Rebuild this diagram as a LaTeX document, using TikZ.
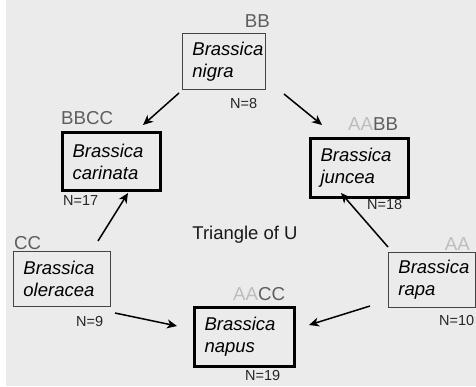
\documentclass[tikz,border=0pt]{standalone}
\usepackage{fontspec}
\setmainfont{Liberation Sans}
\usetikzlibrary{arrows.meta}
\definecolor{bgray}{HTML}{EBEBEB}
\definecolor{gA}{HTML}{BDBDBD}
\definecolor{gB}{HTML}{5E5E5E}
\definecolor{thinline}{HTML}{444444}
\begin{document}
\begin{tikzpicture}[x=1pt,y=-1pt,
  species/.style={anchor=north west, align=left, inner xsep=10pt, inner ysep=0pt,
    font=\fontsize{18.5}{22}\selectfont\itshape, text=black},
  thinbox/.style={species, draw=thinline, line width=0.9pt},
  thickbox/.style={species, draw=black, line width=3pt},
  genome/.style={inner sep=0pt, font=\fontsize{18.7}{20}\selectfont, text=gB},
  count/.style={inner sep=0pt, font=\fontsize{14.5}{16}\selectfont, text=black!85},
  arr/.style={draw=black, line width=1.5pt, -{Stealth[length=10pt,width=9pt,inset=3pt]}}
]
\useasboundingbox (0,0) rectangle (476,386);
\fill[white] (0,0) rectangle (476,386);
\fill[bgray] (6,0) rectangle (476,386);

% species boxes
\node[thinbox, minimum width=83pt, minimum height=56pt, text width=63pt] (nigra) at (182,33) {Brassica\\nigra};
\node[thickbox, minimum width=98pt, minimum height=58pt, text width=78pt] (carinata) at (61,131) {Brassica\\carinata};
\node[thickbox, minimum width=98pt, minimum height=59pt, text width=78pt] (juncea) at (309,137) {Brassica\\juncea};
\node[thinbox, minimum width=97pt, minimum height=55pt, text width=77pt] (oleracea) at (13,251) {Brassica\\oleracea};
\node[thickbox, minimum width=100pt, minimum height=59pt, text width=80pt] (napus) at (193,306) {Brassica\\napus};
\node[thinbox, minimum width=87pt, minimum height=55pt, text width=67pt] (rapa) at (388,252) {Brassica\\rapa};

% genome labels
\node[genome, anchor=base east] (gnigra) at (270,27) {BB};
\node[genome, anchor=base west] (gcarinata) at (61,124) {BBCC};
\node[genome, anchor=base west] (gjuncea) at (348,130) {\textcolor{gA}{AA}BB};
\node[genome, anchor=base west] (goleracea) at (14,249) {CC};
\node[genome, anchor=base west] (gnapus) at (233,300) {\textcolor{gA}{AA}CC};
\node[genome, anchor=base east] (grapa) at (470,250) {\textcolor{gA}{AA}};

% chromosome numbers
\node[count, anchor=base west] (nnigra) at (230,108) {N=8};
\node[count, anchor=base west] (ncarinata) at (63,205) {N=17};
\node[count, anchor=base west] (njuncea) at (367,209) {N=18};
\node[count, anchor=base west] (noleracea) at (76,326) {N=9};
\node[count, anchor=base west] (nnapus) at (245,380) {N=19};
\node[count, anchor=base west] (nrapa) at (439,325) {N=10};

% title
\node[inner sep=0pt, anchor=base, font=\fontsize{18.5}{20}\selectfont, text=black!90] (title) at (245,239) {Triangle of U};

% arrow end points
\coordinate (a1s) at (179,93);  \coordinate (a1e) at (143,125);
\coordinate (a2s) at (284,94);  \coordinate (a2e) at (322,125);
\coordinate (a3s) at (98,241);  \coordinate (a3e) at (128,193);
\coordinate (a4s) at (388,247); \coordinate (a4e) at (341,193);
\coordinate (a5s) at (115,313); \coordinate (a5e) at (177,326);
\coordinate (a6s) at (370,306); \coordinate (a6e) at (309,325);

\draw[arr] (a1s) -- (a1e);
\draw[arr] (a2s) -- (a2e);
\draw[arr] (a3s) -- (a3e);
\draw[arr] (a4s) -- (a4e);
\draw[arr] (a5s) -- (a5e);
\draw[arr] (a6s) -- (a6e);
\end{tikzpicture}
\end{document}
